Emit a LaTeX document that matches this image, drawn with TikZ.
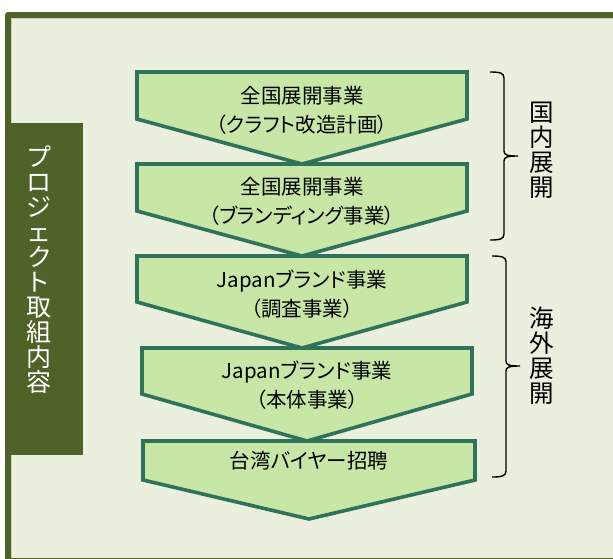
\documentclass[tikz,border=0pt]{standalone}
\usepackage{fontspec}
\setmainfont[RawFeature=+palt]{Noto Sans CJK JP}
\definecolor{olive}{HTML}{4F6228}
\definecolor{paper}{HTML}{EBEFDE}
\definecolor{chevfill}{HTML}{C8E6A6}
\definecolor{chevline}{HTML}{2F735A}
\definecolor{innerline}{HTML}{C6D1AE}
\tikzset{
  chev/.style={draw=chevline, fill=chevfill, line width=3.6pt, line join=miter},
  ctext/.style={align=center, font=\fontsize{20.5}{29}\selectfont, inner sep=0pt, text=black},
  sidetext/.style={align=center, font=\fontsize{24.5}{25}\selectfont, inner sep=0pt, text=black},
  bracepath/.style={draw=black, line width=1.4pt},
}
\newcommand\chevron[5]{\draw[chev] (#1,#3) -- (#2,#3) -- (#2,#4) -- ({(#1+#2)/2},#5) -- (#1,#4) -- cycle;}
\begin{document}
\begin{tikzpicture}[x=1pt,y=-1pt]
\useasboundingbox (0,0) rectangle (613,558);
\fill[white] (0,0) rectangle (613,558);
% frame
\fill[olive, rounded corners=3pt] (5,12) rectangle (640,600);
\fill[innerline] (11,18) rectangle (613,558);
\fill[paper] (12,19) rectangle (613,558);
% side label box
\fill[olive] (11,123) rectangle (83,455);
\node[align=center, font=\fontsize{25}{25}\selectfont, inner sep=0pt, text=white, anchor=north] (lbl) at (39,146)
  {プ\\ロ\\ジ\\ェ\\ク\\ト\\取\\組\\内\\容};
% chevrons
\chevron{137}{467}{72}{119}{164}
\chevron{137}{467}{164}{211}{256}
\chevron{137}{467}{256}{302}{348}
\chevron{142}{472}{348}{394}{441}
\chevron{143}{475}{441}{480}{519}
\node[ctext] (c1) at (302,110) {全国展開事業\\（クラフト改造計画）};
\node[ctext] (c2) at (302,201) {全国展開事業\\（ブランディング事業）};
\node[ctext] (c3) at (302,294) {Japanブランド事業\\（調査事業）};
\node[ctext] (c4) at (307,385) {Japanブランド事業\\（本体事業）};
\node[ctext] (c5) at (309,461) {台湾バイヤー招聘};
% braces
\draw[bracepath] (490,72) .. controls (500,72) and (504,73) .. (504,78) -- (504,151)
  .. controls (504,155) and (507,156) .. (518,156)
  .. controls (507,156) and (504,157) .. (504,161) -- (504,234)
  .. controls (504,239) and (500,240) .. (490,240);
\draw[bracepath] (492,256) .. controls (502,256) and (506,257) .. (506,262) -- (506,361)
  .. controls (506,365) and (509,366) .. (520,366)
  .. controls (509,366) and (506,367) .. (506,371) -- (506,471)
  .. controls (506,476) and (502,477) .. (492,477);
\node[sidetext, anchor=north] (g1) at (542,102) {国\\内\\展\\開};
\node[sidetext, anchor=north] (g2) at (542,307) {海\\外\\展\\開};
\end{tikzpicture}
\end{document}
